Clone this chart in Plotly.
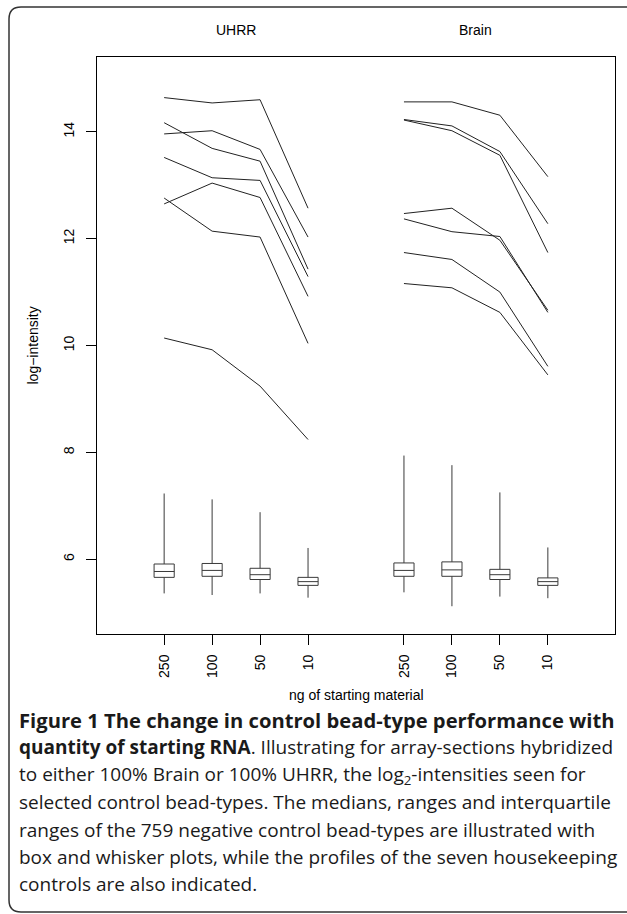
import plotly.graph_objects as go

# ---------------- data ----------------
amounts = ["250", "100", "50", "10"]
groups = ["UHRR", "Brain"]

# housekeeping control profiles (log-intensity at 250, 100, 50, 10 ng)
uhrr_hk = [
    [14.64, 14.54, 14.60, 12.57],
    [13.96, 14.02, 13.67, 12.03],
    [14.17, 13.69, 13.45, 11.43],
    [13.52, 13.14, 13.09, 11.29],
    [12.65, 13.04, 12.77, 10.92],
    [12.76, 12.14, 12.03, 10.04],
    [10.14, 9.92, 9.24, 8.24],
]
brain_hk = [
    [14.56, 14.56, 14.31, 13.16],
    [14.23, 14.11, 13.63, 12.28],
    [14.22, 14.02, 13.56, 11.74],
    [12.47, 12.57, 11.97, 10.66],
    [12.37, 12.13, 12.04, 10.62],
    [11.74, 11.61, 11.00, 9.61],
    [11.16, 11.08, 10.62, 9.45],
]

# negative control summaries
uhrr_min = [5.36, 5.33, 5.36, 5.28]
uhrr_q1 = [5.66, 5.68, 5.62, 5.51]
uhrr_med = [5.77, 5.79, 5.71, 5.58]
uhrr_q3 = [5.91, 5.92, 5.83, 5.66]
uhrr_max = [7.23, 7.12, 6.88, 6.21]

brain_min = [5.38, 5.12, 5.30, 5.27]
brain_q1 = [5.68, 5.68, 5.62, 5.51]
brain_med = [5.79, 5.80, 5.71, 5.58]
brain_q3 = [5.93, 5.95, 5.81, 5.65]
brain_max = [7.94, 7.76, 7.25, 6.22]

y_ticks = [6, 8, 10, 12, 14]

caption_lines = [
    "<b>Figure 1 The change in control bead-type performance with</b>",
    "<b>quantity of starting RNA</b>. Illustrating for array-sections hybridized",
    "to either 100% Brain or 100% UHRR, the log<sub>2</sub>-intensities seen for",
    "selected control bead-types. The medians, ranges and interquartile",
    "ranges of the 759 negative control bead-types are illustrated with",
    "box and whisker plots, while the profiles of the seven housekeeping",
    "controls are also indicated.",
]

# ---------------- layout helpers ----------------
W, H = 627, 914
ML, MR, MT, MB = 97, 12, 57, 280
PW, PH = W - ML - MR, H - MT - MB


def px(xp):
    return (xp - ML) / PW


def py(yp):
    return (H - MB - yp) / PH


n = len(amounts)
uhrr_pos = [i + 1 for i in range(n)]
brain_pos = [i + 2 + n for i in range(n)]

LINE_COL = "#222222"
BOX_COL = "#3a3a3a"
RFONT = "Liberation Sans, Arial, sans-serif"

fig = go.Figure()

for pos, hk in ((uhrr_pos, uhrr_hk), (brain_pos, brain_hk)):
    for prof in hk:
        fig.add_trace(go.Scatter(x=pos, y=prof, mode="lines",
                                 line=dict(color=LINE_COL, width=1),
                                 showlegend=False, hoverinfo="skip"))

for pos, mn, q1, md, q3, mx in (
    (uhrr_pos, uhrr_min, uhrr_q1, uhrr_med, uhrr_q3, uhrr_max),
    (brain_pos, brain_min, brain_q1, brain_med, brain_q3, brain_max),
):
    fig.add_trace(go.Box(x=pos, lowerfence=mn, q1=q1, median=md, q3=q3,
                         upperfence=mx, width=0.42, whiskerwidth=0,
                         line=dict(color=BOX_COL, width=1),
                         fillcolor="rgba(0,0,0,0)", boxpoints=False,
                         showlegend=False))

fig.update_xaxes(range=[-0.4, 10.4], tickvals=uhrr_pos + brain_pos,
                 ticktext=amounts + amounts, tickangle=-90,
                 ticks="outside", ticklen=10, tickcolor="black",
                 ticklabelstandoff=4,
                 showline=True, linecolor="black", linewidth=1, mirror=True,
                 showgrid=False, zeroline=False,
                 tickfont=dict(family=RFONT, size=14, color="black"))
fig.update_yaxes(range=[4.6, 15.4], tickvals=y_ticks,
                 ticktext=[str(v) for v in y_ticks], tickangle=-90,
                 ticks="outside", ticklen=10, tickcolor="black",
                 ticklabelstandoff=6,
                 showline=True, linecolor="black", linewidth=1, mirror=True,
                 showgrid=False, zeroline=False,
                 tickfont=dict(family=RFONT, size=14, color="black"))

annotations = []
for g, pos in zip(groups, (uhrr_pos, brain_pos)):
    annotations.append(dict(x=sum(pos) / len(pos), xref="x", y=py(30), yref="paper",
                            text=g, showarrow=False, xanchor="center", yanchor="middle",
                            font=dict(family=RFONT, size=14, color="black")))
annotations.append(dict(x=px(356), xref="paper", y=py(695), yref="paper",
                        text="ng of starting material", showarrow=False,
                        xanchor="center", yanchor="middle",
                        font=dict(family=RFONT, size=14, color="black")))
annotations.append(dict(x=px(32), xref="paper", y=0.5, yref="paper",
                        text="log\u2212intensity", showarrow=False, textangle=-90,
                        xanchor="center", yanchor="middle",
                        font=dict(family=RFONT, size=14, color="black")))

cap_y0, cap_dy = 720, 27.4
for i, line in enumerate(caption_lines):
    size = 20.2 if i == 0 else 19
    annotations.append(dict(x=px(17), xref="paper", y=py(cap_y0 + i * cap_dy), yref="paper",
                            text=line, showarrow=False, xanchor="left", yanchor="middle",
                            align="left",
                            font=dict(family="Open Sans, sans-serif", size=size, color="#1a1a1a")))

# outer rounded frame
fl, ft, fr, fb, rr = 9, 7, 640, 912, 12
pts = (f"M {px(fl)},{py(ft + rr)} "
       f"Q {px(fl)},{py(ft)} {px(fl + rr)},{py(ft)} "
       f"L {px(fr - rr)},{py(ft)} "
       f"Q {px(fr)},{py(ft)} {px(fr)},{py(ft + rr)} "
       f"L {px(fr)},{py(fb - rr)} "
       f"Q {px(fr)},{py(fb)} {px(fr - rr)},{py(fb)} "
       f"L {px(fl + rr)},{py(fb)} "
       f"Q {px(fl)},{py(fb)} {px(fl)},{py(fb - rr)} Z")
shapes = [dict(type="path", xref="paper", yref="paper", path=pts,
               line=dict(color="#333333", width=1.5))]

fig.update_layout(width=W, height=H, margin=dict(l=ML, r=MR, t=MT, b=MB),
                  paper_bgcolor="white", plot_bgcolor="white",
                  annotations=annotations, shapes=shapes, showlegend=False)

fig.write_html("out.html", config={"displayModeBar": False},
               post_script="document.body.style.margin='0';"
                           "document.body.style.overflow='hidden';")
